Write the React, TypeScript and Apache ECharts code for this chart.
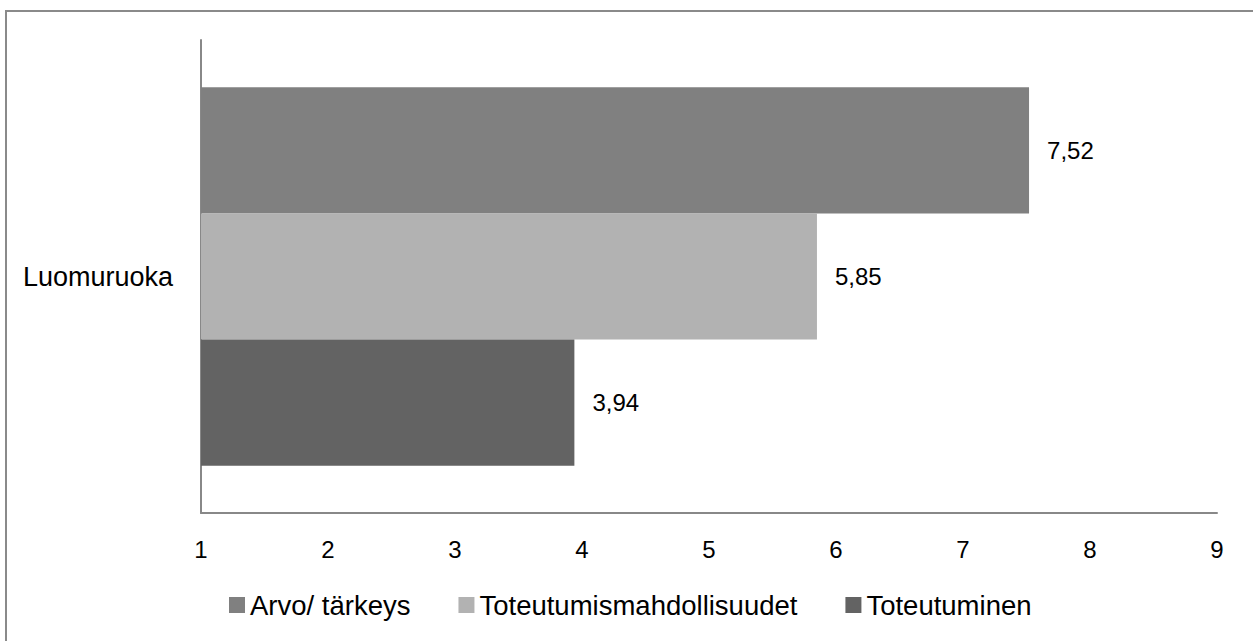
import React, { useEffect, useRef } from "react";
import * as echarts from "echarts";

const categories = ["Luomuruoka"];
const seriesNames = ["Arvo/ tärkeys", "Toteutumismahdollisuudet", "Toteutuminen"];
const arvoValues = [7.52];
const mahdollisuudetValues = [5.85];
const toteutuminenValues = [3.94];
const seriesColors = ["#808080", "#b2b2b2", "#636363"];
const xMin = 1;
const xMax = 9;

const FONT = "Liberation Sans";

export default function App() {
  const ref = useRef<HTMLDivElement>(null);
  useEffect(() => {
    if (!ref.current) return;
    const chart = echarts.init(ref.current, undefined, { renderer: "svg" });
    const values = [arvoValues, mahdollisuudetValues, toteutuminenValues];
    const fmt = (v: number) => v.toFixed(2).replace(".", ",");
    chart.setOption({
      animation: false,
      backgroundColor: "#ffffff",
      textStyle: { fontFamily: FONT },
      graphic: [
        {
          type: "rect",
          shape: { x: 6, y: 11, width: 1320, height: 700 },
          style: { fill: "none", stroke: "#8a8a8a", lineWidth: 2 },
          silent: true,
        },
      ],
      grid: { left: 201, right: 36, top: 40, bottom: 128, containLabel: false },
      xAxis: {
        type: "value",
        min: xMin,
        max: xMax,
        interval: 1,
        axisLine: { show: true, lineStyle: { color: "#888888", width: 2 } },
        axisTick: { show: false },
        splitLine: { show: false },
        axisLabel: { fontSize: 24, color: "#000", margin: 24, fontFamily: FONT },
      },
      yAxis: {
        type: "category",
        data: categories,
        inverse: true,
        axisLine: { show: true, lineStyle: { color: "#888888", width: 2 } },
        axisTick: { show: false },
        axisLabel: { fontSize: 27, color: "#000", margin: 28, fontFamily: FONT },
      },
      legend: {
        bottom: 22,
        left: 229,
        padding: 0,
        itemWidth: 16,
        itemHeight: 16,
        itemGap: 48,
        icon: "rect",
        textStyle: { fontSize: 27.5, color: "#000", fontFamily: FONT, padding: [0, 0, 0, 0] },
        data: seriesNames,
      },
      series: seriesNames.map((name, i) => ({
        name,
        type: "bar",
        data: values[i],
        barGap: "0%",
        barCategoryGap: "20%",
        itemStyle: { color: seriesColors[i] },
        label: {
          show: true,
          position: "right",
          distance: 18,
          fontSize: 24,
          color: "#000",
          fontFamily: FONT,
          formatter: (p: any) => fmt(p.value),
        },
      })),
    });
    return () => chart.dispose();
  }, []);
  return (
    <div
      ref={ref}
      style={{ position: "fixed", left: 0, top: 0, width: 1253, height: 641 }}
    />
  );
}
